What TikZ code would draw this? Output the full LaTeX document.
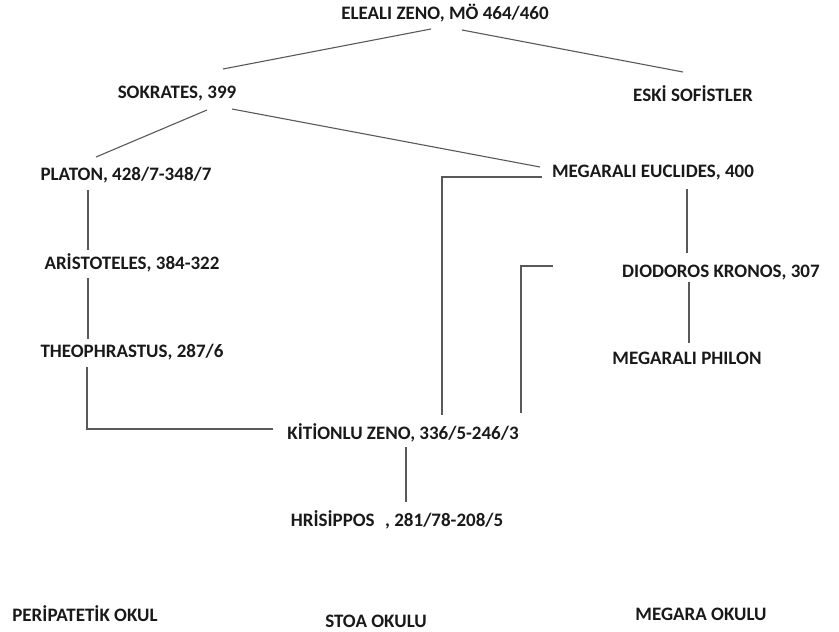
\documentclass[tikz,border=0pt]{standalone}
\usepackage{fontspec}
\setmainfont{Carlito}
\begin{document}
\begin{tikzpicture}[x=1pt,y=-1pt,
  lbl/.style={font=\bfseries\fontsize{19}{22}\selectfont, inner sep=0pt, text=black!90},
  link/.style={draw=black!65, line width=1.1pt}]
\useasboundingbox (0,0) rectangle (839,632);
% nodes
\node[lbl] (eleali) at (445,13) {ELEALI ZENO, MÖ 464/460};
\node[lbl] (sok) at (177,94) {SOKRATES, 399};
\node[lbl] (eski) at (693,94) {ESKİ SOFİSTLER};
\node[lbl] (platon) at (126,175) {PLATON, 428/7-348/7};
\node[lbl] (aris) at (132,263) {ARİSTOTELES, 384-322};
\node[lbl] (theo) at (132,352) {THEOPHRASTUS, 287/6};
\node[lbl] (eucl) at (653,173) {MEGARALI EUCLIDES, 400};
\node[lbl] (diod) at (721,273) {DIODOROS KRONOS, 307};
\node[lbl] (philon) at (687,358) {MEGARALI PHILON};
\node[lbl] (kition) at (403,433) {KİTİONLU ZENO, 336/5-246/3};
\node[lbl] (hris) at (397,520) {HRİSİPPOS\hspace{0.55em}, 281/78-208/5};
\node[lbl] (peri) at (85,614) {PERİPATETİK OKUL};
\node[lbl] (stoa) at (376,621) {STOA OKULU};
\node[lbl] (megara) at (701,614) {MEGARA OKULU};
% connector end points
\coordinate (e1) at (431,29);  \coordinate (s1) at (223,69);
\coordinate (e2) at (462,30);  \coordinate (k1) at (683,72);
\coordinate (s2) at (207,110); \coordinate (p1) at (96,157);
\coordinate (s3) at (232,109); \coordinate (m1) at (540,167);
\coordinate (m2) at (542,177); \coordinate (z1) at (442,415);
\coordinate (d1) at (553,266); \coordinate (z2) at (521,413);
\coordinate (m3) at (687,189); \coordinate (d2) at (687,253);
\coordinate (d3) at (689,282); \coordinate (ph) at (689,343);
\coordinate (p2) at (88,190);  \coordinate (a1) at (88,250);
\coordinate (a2) at (88,278);  \coordinate (t1) at (88,339);
\coordinate (t2) at (87,367);  \coordinate (z3) at (273,429);
\coordinate (z4) at (406,447); \coordinate (h1) at (406,502);
% connectors
\draw[link] (e1) -- (s1);
\draw[link] (e2) -- (k1);
\draw[link] (s2) -- (p1);
\draw[link] (s3) -- (m1);
\draw[link] (m2) -| (z1);
\draw[link] (d1) -| (z2);
\draw[link] (m3) -- (d2);
\draw[link] (d3) -- (ph);
\draw[link] (p2) -- (a1);
\draw[link] (a2) -- (t1);
\draw[link] (t2) |- (z3);
\draw[link] (z4) -- (h1);
\end{tikzpicture}
\end{document}
